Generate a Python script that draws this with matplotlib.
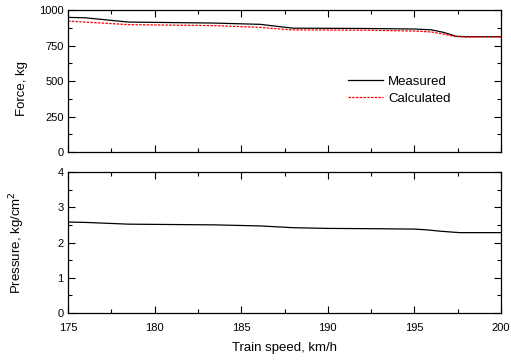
import matplotlib.pyplot as plt
from matplotlib.ticker import MultipleLocator

plt.rcParams['font.family'] = ['Liberation Sans', 'DejaVu Sans']

# Force, kg
speed_meas = [175, 176, 178.5, 183.4, 186.1, 187.2, 188.0, 192.0, 195.0, 196.0, 196.7, 197.4, 198.0, 200]
force_meas = [948, 945, 915, 908, 899, 883, 872, 870, 866, 860, 842, 815, 812, 812]
speed_calc = [175, 178.5, 183.4, 186.1, 187.2, 188.0, 192.0, 195.0, 196.0, 196.7, 197.4, 198.0, 200]
force_calc = [922, 897, 890, 878, 866, 860, 858, 852, 845, 830, 812, 810, 810]

# Pressure, kg/cm2
speed_p = [175, 176, 178.5, 183.5, 186.1, 188.0, 189.9, 193.0, 195.0, 195.7, 196.5, 197.6, 200]
pressure = [2.58, 2.57, 2.52, 2.50, 2.47, 2.42, 2.40, 2.39, 2.38, 2.36, 2.32, 2.28, 2.28]

fig = plt.figure(figsize=(5.11, 3.60), dpi=100)
ax1 = fig.add_axes([68/511, 1-152/360, 433/511, 142/360])
ax2 = fig.add_axes([68/511, 1-313/360, 433/511, 141/360])

ax1.plot(speed_meas, force_meas, color='black', lw=0.9, label='Measured')
ax1.plot(speed_calc, force_calc, color='red', lw=0.9, ls=(0, (2, 1)), label='Calculated')
ax1.set_ylim(0, 1000)
ax1.set_xlim(175, 200)
ax1.yaxis.set_major_locator(MultipleLocator(250))
ax1.yaxis.set_minor_locator(MultipleLocator(125))
ax1.set_ylabel('Force, kg', fontsize=9.5)
ax1.yaxis.set_label_coords(-0.093, 0.45)
ax1.tick_params(labelbottom=False)
ax1.legend(loc='upper left', bbox_to_anchor=(0.62, 0.62), frameon=False, fontsize=9.5,
           handlelength=2.6, handletextpad=0.4, labelspacing=0.35)

ax2.plot(speed_p, pressure, color='black', lw=0.9)
ax2.set_ylim(0, 4)
ax2.set_xlim(175, 200)
ax2.yaxis.set_major_locator(MultipleLocator(1))
ax2.yaxis.set_minor_locator(MultipleLocator(0.5))
ax2.set_ylabel('Pressure, kg/cm$^2$', fontsize=9.5)
ax2.yaxis.set_label_coords(-0.094, 0.5)
ax2.set_xlabel('Train speed, km/h', fontsize=9.5, labelpad=7)

for ax in (ax1, ax2):
    ax.xaxis.set_major_locator(MultipleLocator(5))
    ax.xaxis.set_minor_locator(MultipleLocator(2.5))
    ax.tick_params(which='both', direction='in', top=True, right=True, labelsize=8)
    ax.tick_params(axis='x', pad=7)
    ax.tick_params(axis='y', pad=3)
    ax.tick_params(which='major', length=5, width=0.8)
    ax.tick_params(which='minor', length=3, width=0.8)
    for s in ax.spines.values():
        s.set_linewidth(0.9)

fig.savefig('out.png', dpi=100)
